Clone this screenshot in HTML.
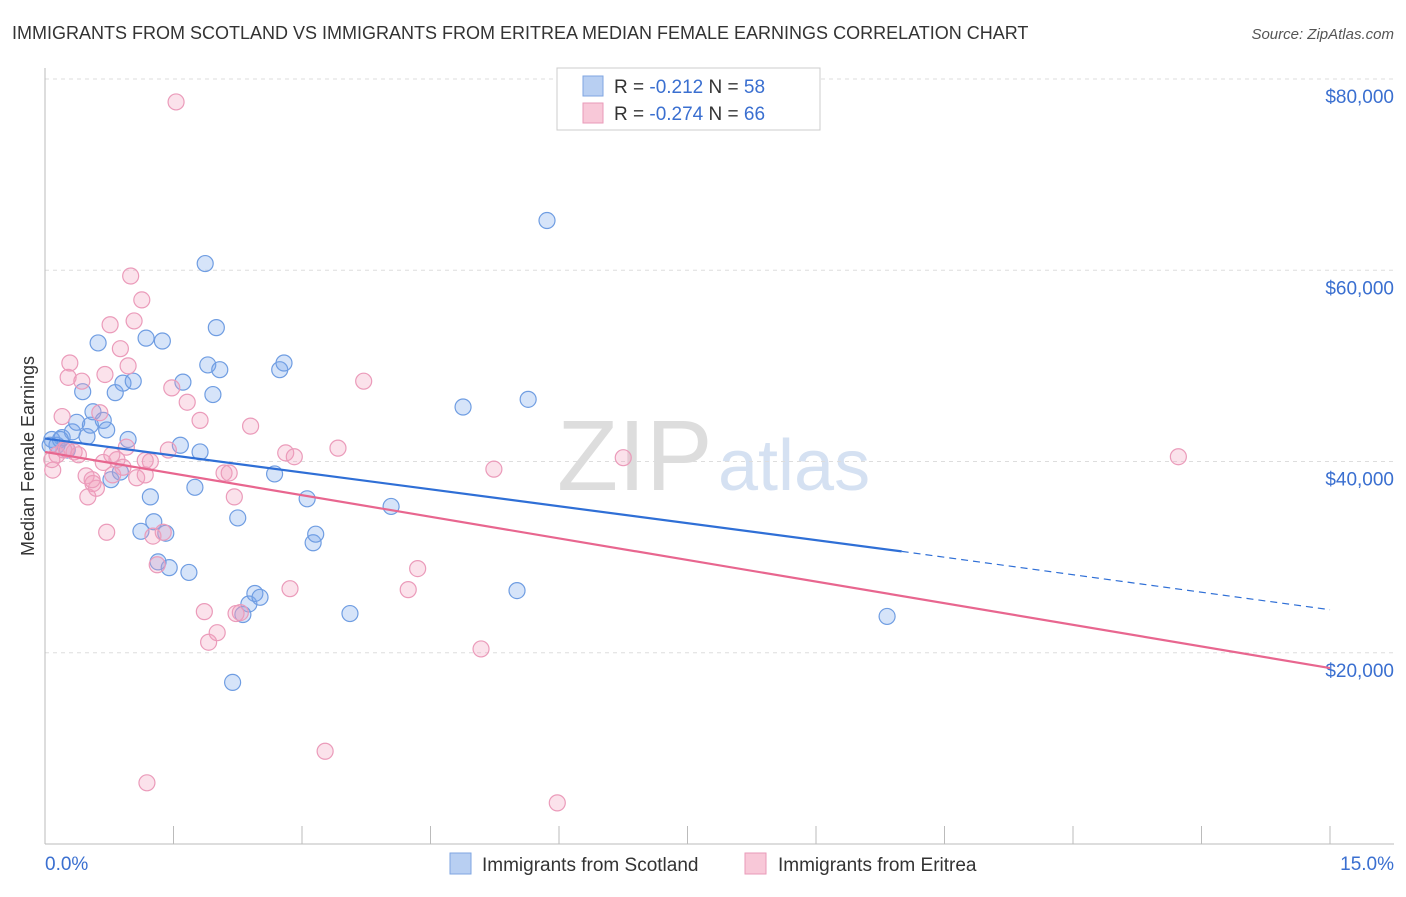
<!DOCTYPE html>
<html><head><meta charset="utf-8"><style>
body{margin:0;background:#fff;font-family:"Liberation Sans",sans-serif;}
svg text{font-family:"Liberation Sans",sans-serif;}
</style></head><body>
<svg id="chart" width="1406" height="892">
<text x="12" y="39" font-size="18" fill="#333">IMMIGRANTS FROM SCOTLAND VS IMMIGRANTS FROM ERITREA MEDIAN FEMALE EARNINGS CORRELATION CHART</text>
<text x="1394" y="39" font-size="15" fill="#555" font-style="italic" text-anchor="end">Source: ZipAtlas.com</text>
<text x="557" y="490" font-size="100" fill="#ddd" font-family="Liberation Serif">ZIP</text>
<text x="718" y="490" font-size="72" fill="#d5e1f2">atlas</text>
<g id="grid"></g><g id="axes"></g><g id="pts"></g><g id="lines"></g>
<text x="34" y="456" font-size="18" fill="#333" text-anchor="middle" transform="rotate(-90 34 456)">Median Female Earnings</text>
<g>
<rect x="557" y="68" width="263" height="62" fill="#fff" stroke="#ccc"/>
<rect x="583" y="76" width="20" height="20" fill="#b8cff2" stroke="#7fa6e2"/>
<text x="614" y="93" font-size="19" fill="#333">R = <tspan fill="#3a6fd0">-0.212</tspan>   N = <tspan fill="#3a6fd0">58</tspan></text>
<rect x="583" y="103" width="20" height="20" fill="#f8c8d8" stroke="#e99ab8"/>
<text x="614" y="120" font-size="19" fill="#333">R = <tspan fill="#3a6fd0">-0.274</tspan>   N = <tspan fill="#3a6fd0">66</tspan></text>
</g>
<g>
<rect x="450" y="853" width="21" height="21" fill="#b8cff2" stroke="#7fa6e2"/>
<text x="482" y="871" font-size="19" fill="#333">Immigrants from Scotland</text>
<rect x="745" y="853" width="21" height="21" fill="#f8c8d8" stroke="#e99ab8"/>
<text x="778" y="871" font-size="19" fill="#333">Immigrants from Eritrea</text>
</g>
</svg>
<script>
const yTicks=[20000,40000,60000,80000];
const yTickLabels=["$20,000","$40,000","$60,000","$80,000"];
const xTickLabels=["0.0%","15.0%"];
const blueX=[.08,.14,.20,.26,.32,.37,.44,.49,.53,.56,.62,.68,.72,.77,.82,.88,.91,.97,1.03,1.12,1.18,1.23,1.27,1.32,1.37,1.41,1.45,1.58,1.61,1.68,1.75,1.81,1.87,1.90,1.96,2.00,2.04,2.25,2.31,2.38,2.45,2.51,2.68,2.74,2.79,3.06,3.13,3.16,3.56,4.04,4.88,5.51,5.64,5.86,9.83,2.19,.18,.06];
const blueY=[42.3,41.7,42.5,41.2,43.1,44.1,47.3,42.6,43.8,45.2,52.4,44.3,43.3,38.1,47.2,38.9,48.2,42.3,48.4,32.7,52.9,36.3,33.7,29.5,52.6,32.5,28.9,41.7,48.3,28.4,37.3,41.0,60.7,50.1,47.0,54.0,49.6,34.1,24.0,25.1,26.2,25.8,38.7,49.6,50.3,36.1,31.5,32.4,24.1,35.3,45.7,26.5,46.5,65.2,23.8,16.9,42.3,41.7];
const pinkX=[.09,.14,.20,.25,.27,.29,.34,.39,.43,.48,.50,.56,.60,.64,.68,.70,.72,.76,.79,.84,.88,.91,.95,.97,1.00,1.04,1.07,1.13,1.17,1.19,1.23,1.26,1.31,1.38,1.44,1.48,1.53,1.66,1.81,1.86,1.91,2.01,2.09,2.15,2.21,2.28,2.40,2.81,2.86,2.91,3.42,3.27,3.72,4.24,4.35,5.09,5.24,5.98,6.75,13.23,.08,.22,.55,.78,1.17,2.23];
const pinkY=[39.1,40.7,44.7,41.3,48.8,50.3,41.0,40.7,48.4,38.5,36.3,37.7,37.2,45.1,39.9,49.1,32.6,54.3,38.6,40.2,51.8,39.4,41.5,50.0,59.4,54.7,38.3,56.9,38.6,6.4,40.0,32.2,29.2,32.6,41.2,47.7,77.6,46.2,44.3,24.3,21.1,22.1,38.8,38.8,36.3,24.2,43.7,40.9,26.7,40.5,41.4,9.7,48.4,26.6,28.8,20.4,39.2,4.3,40.4,40.5,40.2,41.2,38.1,40.7,40.1,24.1];
const blueTrendX=[0,10.0,15];
const blueTrendY=[42.4,30.6,24.5];
const pinkTrendX=[0,15];
const pinkTrendY=[41.0,18.4];
const X0=45,X1=1330,YTOP=79,YBOT=844;
const sx=v=>X0+v/15*(X1-X0);
const sy=k=>YTOP+(80-k)/80*(YBOT-YTOP);
const NS="http://www.w3.org/2000/svg";
function mk(parent,tag,at){const e=document.createElementNS(NS,tag);for(const k in at)e.setAttribute(k,at[k]);document.getElementById(parent).appendChild(e);return e;}
yTicks.forEach((t,i)=>{
 const y=sy(t/1000);
 const g=mk('grid','line',{x1:X0,x2:1394,y1:y,y2:y,stroke:'#ddd','stroke-dasharray':'4,4'});
 
 
 const tx=mk('axes','text',{x:1394,y:y+24,'font-size':19,fill:'#3a6fd0','text-anchor':'end'});
 tx.textContent=yTickLabels[i];
 
 
});
const ax=mk('axes','line',{x1:X0,x2:X0,y1:68,y2:YBOT,stroke:'#bbb'});


const bx=mk('axes','line',{x1:X0,x2:1394,y1:YBOT,y2:YBOT,stroke:'#bbb'});


for(let i=0;i<=10;i++){const x=sx(i*1.5);
 const t=mk('axes','line',{x1:x,x2:x,y1:826,y2:YBOT,stroke:'#bbb'});
 
 }
[[0,'start',45],[15,'end',1394]].forEach((d,i)=>{
 const t=mk('axes','text',{x:d[2],y:870,'font-size':19,fill:'#3a6fd0','text-anchor':d[1]});
 t.textContent=xTickLabels[i];
 
 });
blueX.forEach((v,i)=>{const c=mk('pts','circle',{cx:sx(v),cy:sy(blueY[i]),r:8,fill:'rgba(120,165,235,0.3)',stroke:'#6f9de2','stroke-width':1.2});
 
 });
pinkX.forEach((v,i)=>{const c=mk('pts','circle',{cx:sx(v),cy:sy(pinkY[i]),r:8,fill:'rgba(242,160,190,0.3)',stroke:'#eb9bba','stroke-width':1.2});
 
 });
const bl=mk('lines','line',{x1:sx(blueTrendX[0]),y1:sy(blueTrendY[0]),x2:sx(blueTrendX[1]),y2:sy(blueTrendY[1]),stroke:'#2f6fd6','stroke-width':2.2});


const bd=mk('lines','line',{x1:sx(blueTrendX[1]),y1:sy(blueTrendY[1]),x2:sx(blueTrendX[2]),y2:sy(blueTrendY[2]),stroke:'#2f6fd6','stroke-width':1.2,'stroke-dasharray':'7,5'});


const pl=mk('lines','line',{x1:sx(pinkTrendX[0]),y1:sy(pinkTrendY[0]),x2:sx(pinkTrendX[1]),y2:sy(pinkTrendY[1]),stroke:'#e8668f','stroke-width':2.2});


</script>
</body></html>
